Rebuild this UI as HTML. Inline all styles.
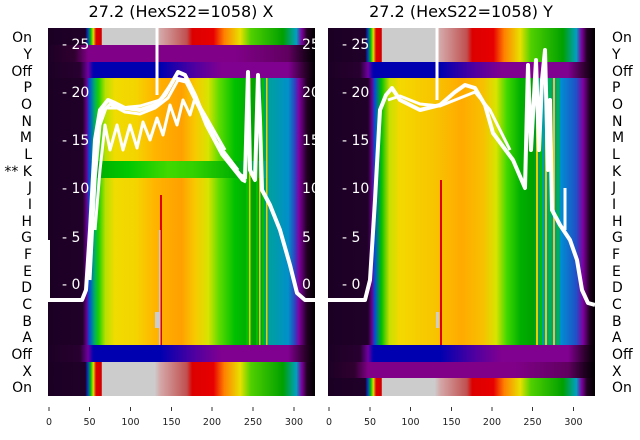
<!DOCTYPE html>
<html><head><meta charset="utf-8"><style>
html,body{margin:0;padding:0;background:#fff;width:640px;height:440px;overflow:hidden}
text{font-family:"DejaVu Sans","Liberation Sans",sans-serif}
</style></head><body>
<svg width="640" height="440" viewBox="0 0 640 440" xmlns="http://www.w3.org/2000/svg">
<defs>
<linearGradient id="Lmain" x1="0" x2="1" y1="0" y2="0">
<stop offset="0" stop-color="#1c0024"/><stop offset="0.13" stop-color="#200028"/><stop offset="0.145" stop-color="#6a0090"/>
<stop offset="0.155" stop-color="#0050d8"/><stop offset="0.175" stop-color="#00b060"/><stop offset="0.19" stop-color="#20d000"/>
<stop offset="0.215" stop-color="#b8e000"/><stop offset="0.25" stop-color="#f0dc00"/><stop offset="0.33" stop-color="#f4d400"/>
<stop offset="0.4" stop-color="#ffb400"/><stop offset="0.5" stop-color="#ffa000"/><stop offset="0.55" stop-color="#f8c800"/>
<stop offset="0.6" stop-color="#d8e400"/><stop offset="0.64" stop-color="#60dc00"/><stop offset="0.7" stop-color="#00c000"/>
<stop offset="0.78" stop-color="#00a000"/><stop offset="0.83" stop-color="#00a0a0"/><stop offset="0.9" stop-color="#0090c8"/>
<stop offset="0.925" stop-color="#3040c0"/><stop offset="0.94" stop-color="#8000a0"/><stop offset="0.97" stop-color="#200020"/><stop offset="1" stop-color="#000"/>
</linearGradient>
<linearGradient id="LK" x1="0" x2="1" y1="0" y2="0">
<stop offset="0" stop-color="#1c0024"/><stop offset="0.13" stop-color="#200028"/><stop offset="0.145" stop-color="#6a0090"/>
<stop offset="0.155" stop-color="#0050d8"/><stop offset="0.19" stop-color="#00b000"/><stop offset="0.3" stop-color="#00c800"/>
<stop offset="0.45" stop-color="#40d800"/><stop offset="0.55" stop-color="#30d000"/><stop offset="0.7" stop-color="#00b000"/>
<stop offset="0.83" stop-color="#00a0a0"/><stop offset="0.9" stop-color="#0090c8"/>
<stop offset="0.925" stop-color="#3040c0"/><stop offset="0.94" stop-color="#8000a0"/><stop offset="0.97" stop-color="#200020"/><stop offset="1" stop-color="#000"/>
</linearGradient>
<linearGradient id="On" x1="0" x2="1" y1="0" y2="0">
<stop offset="0" stop-color="#1c0024"/><stop offset="0.14" stop-color="#200028"/><stop offset="0.15" stop-color="#0040d0"/>
<stop offset="0.16" stop-color="#00c000"/><stop offset="0.17" stop-color="#e0e000"/><stop offset="0.18" stop-color="#e00000"/>
<stop offset="0.2" stop-color="#d00000"/><stop offset="0.203" stop-color="#cccccc"/><stop offset="0.4" stop-color="#cccccc"/>
<stop offset="0.42" stop-color="#d4a8a8"/><stop offset="0.52" stop-color="#c05050"/><stop offset="0.54" stop-color="#dd0000"/>
<stop offset="0.62" stop-color="#e80000"/><stop offset="0.66" stop-color="#ff8000"/><stop offset="0.72" stop-color="#e8e000"/>
<stop offset="0.76" stop-color="#50d000"/><stop offset="0.88" stop-color="#00a000"/><stop offset="0.93" stop-color="#00a0c0"/>
<stop offset="0.95" stop-color="#8000a0"/><stop offset="0.97" stop-color="#200020"/><stop offset="1" stop-color="#000"/>
</linearGradient>
<linearGradient id="Pur" x1="0" x2="1" y1="0" y2="0">
<stop offset="0" stop-color="#1c0024"/><stop offset="0.1" stop-color="#300030"/><stop offset="0.15" stop-color="#800088"/>
<stop offset="0.7" stop-color="#800088"/><stop offset="0.9" stop-color="#600060"/><stop offset="0.96" stop-color="#200020"/><stop offset="1" stop-color="#000"/>
</linearGradient>
<linearGradient id="Off" x1="0" x2="1" y1="0" y2="0">
<stop offset="0" stop-color="#1c0024"/><stop offset="0.12" stop-color="#280030"/><stop offset="0.15" stop-color="#7000a0"/>
<stop offset="0.17" stop-color="#0000b0"/><stop offset="0.42" stop-color="#0000b0"/><stop offset="0.55" stop-color="#5000a0"/>
<stop offset="0.65" stop-color="#800090"/><stop offset="0.9" stop-color="#800090"/><stop offset="0.96" stop-color="#300030"/><stop offset="1" stop-color="#000"/>
</linearGradient>
<linearGradient id="Rmain" x1="0" x2="1" y1="0" y2="0">
<stop offset="0" stop-color="#1c0024"/><stop offset="0.15" stop-color="#200028"/><stop offset="0.165" stop-color="#6a0090"/>
<stop offset="0.175" stop-color="#0050d8"/><stop offset="0.2" stop-color="#00c000"/><stop offset="0.23" stop-color="#c8e000"/>
<stop offset="0.27" stop-color="#f4d800"/><stop offset="0.4" stop-color="#f8c400"/><stop offset="0.5" stop-color="#ffaa00"/>
<stop offset="0.58" stop-color="#f8c000"/><stop offset="0.63" stop-color="#d8e400"/><stop offset="0.67" stop-color="#40d800"/>
<stop offset="0.72" stop-color="#00b000"/><stop offset="0.77" stop-color="#00a000"/><stop offset="0.8" stop-color="#00a0a0"/>
<stop offset="0.87" stop-color="#0090d0"/><stop offset="0.93" stop-color="#2050c8"/><stop offset="0.955" stop-color="#8000a0"/>
<stop offset="0.98" stop-color="#200020"/><stop offset="1" stop-color="#000"/>
</linearGradient>
</defs>

<text x="181" y="17" font-size="16" text-anchor="middle" fill="#000">27.2 (HexS22=1058) X</text>
<text x="461" y="17" font-size="16" text-anchor="middle" fill="#000">27.2 (HexS22=1058) Y</text>

<!-- left panel -->
<svg x="48" y="28" width="267" height="368" viewBox="48 28 267 368">
<rect x="48" y="28" width="267" height="17" fill="url(#On)"/>
<rect x="48" y="45" width="267" height="17" fill="url(#Pur)"/>
<rect x="48" y="62" width="267" height="16" fill="url(#Off)"/>
<rect x="48" y="78" width="267" height="267" fill="url(#Lmain)"/>
<rect x="48" y="161" width="267" height="17" fill="url(#LK)"/>
<rect x="48" y="345" width="267" height="17" fill="url(#Off)"/>
<rect x="48" y="362" width="267" height="34" fill="url(#On)"/>
<rect x="160" y="195" width="2" height="150" fill="#e00000"/>
<rect x="159" y="230" width="1.5" height="115" fill="#ccc"/>
<rect x="155" y="312" width="4" height="16" fill="#ccc"/>
<g fill="#00c000"><rect x="246" y="78" width="3" height="267"/><rect x="256" y="78" width="2" height="267"/><rect x="262" y="78" width="2" height="267"/></g>
<g fill="#e8d000"><rect x="249" y="78" width="1.5" height="267"/><rect x="259" y="78" width="1.5" height="267"/><rect x="266" y="78" width="1.5" height="267"/></g>
<g fill="#fff" font-size="14">
<text x="62" y="49">- 25</text><text x="62" y="97">- 20</text><text x="62" y="145">- 15</text><text x="62" y="193">- 10</text><text x="62" y="242">- 5</text><text x="62" y="289">- 0</text>
<text x="302" y="49">25</text><text x="302" y="97">20</text><text x="302" y="145">15</text><text x="302" y="193">10</text><text x="302" y="242">5</text><text x="302" y="289">0</text>
</g>
<g fill="none" stroke="#fff" stroke-width="3" stroke-linejoin="round">
<line x1="157" y1="28" x2="157" y2="95" stroke-width="3"/>
<line x1="49" y1="240" x2="49" y2="300" stroke-width="2"/>
<polyline stroke-width="4" points="48,300 82,300 86,290 90,230 95,140 100,110 108,100 115,103 125,108 140,110 155,105 165,95 178,72 185,75 195,95 205,120 220,150 240,175 245,178 248,72 250,170 255,180 258,75 260,120 262,190 270,205 280,230 290,265 297,293 305,300 315,300"/>
<polyline points="86,290 92,220 97,135 102,112 110,104 125,112 140,114 155,108 168,98 178,80 186,82 196,100 206,125 222,155 242,180 246,182"/>
<polyline points="90,280 95,180 100,125 106,108 120,108 140,106 160,100 175,78 185,80 200,110 215,140 238,170"/>
<polyline points="95,230 100,170 105,125 110,150 117,125 123,150 130,125 137,148 143,122 150,140 157,118 163,135 170,105 177,125 183,100 190,115 195,98 205,115 225,150"/>
</g>
</svg>

<!-- right panel -->
<svg x="328" y="28" width="267" height="368" viewBox="328 28 267 368">
<rect x="328" y="28" width="267" height="34" fill="url(#On)"/>
<rect x="328" y="62" width="267" height="16" fill="url(#Off)"/>
<rect x="328" y="78" width="267" height="267" fill="url(#Rmain)"/>
<rect x="328" y="345" width="267" height="17" fill="url(#Off)"/>
<rect x="328" y="362" width="267" height="16" fill="url(#Pur)"/>
<rect x="328" y="378" width="267" height="18" fill="url(#On)"/>
<rect x="440" y="180" width="2" height="165" fill="#e00000"/>
<rect x="436" y="312" width="3" height="16" fill="#ccc"/>
<g fill="#e8d000"><rect x="536" y="78" width="2" height="267"/><rect x="545" y="78" width="2" height="267"/><rect x="553" y="78" width="2" height="267"/></g>
<g fill="#00c000"><rect x="540" y="78" width="2" height="267"/><rect x="549" y="78" width="2" height="267"/><rect x="557" y="78" width="2" height="267"/></g>
<g fill="#fff" font-size="14">
<text x="342" y="49">- 25</text><text x="342" y="97">- 20</text><text x="342" y="145">- 15</text><text x="342" y="193">- 10</text><text x="342" y="242">- 5</text><text x="342" y="289">- 0</text>
</g>
<g fill="none" stroke="#fff" stroke-width="4" stroke-linejoin="round">
<line x1="437" y1="28" x2="437" y2="100" stroke-width="3"/>
<line x1="565" y1="188" x2="565" y2="230" stroke-width="3"/>
<polyline points="328,300 365,300 370,280 375,200 380,110 386,95 392,88 400,100 420,110 440,105 455,92 465,85 475,88 485,105 493,133 513,160 525,188 528,65 531,150 536,60 539,150 542,80 545,50 548,170 550,100 552,210 560,225 570,240 577,260 582,290 588,303 595,305"/>
<polyline stroke-width="3" points="388,100 400,96 420,104 440,106 460,98 475,92 490,110 510,150"/>
</g>
</svg>

<!-- row labels -->
<g font-size="14" fill="#000">
<g text-anchor="end">
<text x="32" y="42">On</text><text x="32" y="59">Y</text><text x="32" y="76">Off</text><text x="32" y="92">P</text><text x="32" y="109">O</text><text x="32" y="126">N</text><text x="32" y="142">M</text><text x="32" y="159">L</text><text x="32" y="176">** K</text><text x="32" y="192">J</text><text x="32" y="209">I</text><text x="32" y="226">H</text><text x="32" y="242">G</text><text x="32" y="259">F</text><text x="32" y="276">E</text><text x="32" y="292">D</text><text x="32" y="309">C</text><text x="32" y="326">B</text><text x="32" y="342">A</text><text x="32" y="359">Off</text><text x="32" y="376">X</text><text x="32" y="392">On</text>
</g>
<g text-anchor="start">
<text x="612" y="42">On</text><text x="612" y="59">Y</text><text x="612" y="76">Off</text><text x="612" y="92">P</text><text x="612" y="109">O</text><text x="612" y="126">N</text><text x="612" y="142">M</text><text x="612" y="159">L</text><text x="612" y="176">K</text><text x="612" y="192">J</text><text x="612" y="209">I</text><text x="612" y="226">H</text><text x="612" y="242">G</text><text x="612" y="259">F</text><text x="612" y="276">E</text><text x="612" y="292">D</text><text x="612" y="309">C</text><text x="612" y="326">B</text><text x="612" y="342">A</text><text x="612" y="359">Off</text><text x="612" y="376">X</text><text x="612" y="392">On</text>
</g>
</g>

<!-- x ticks -->
<g stroke="#333" stroke-width="1">
<line x1="49" y1="407" x2="49" y2="411"/><line x1="89.5" y1="407" x2="89.5" y2="411"/><line x1="130.5" y1="407" x2="130.5" y2="411"/><line x1="171.5" y1="407" x2="171.5" y2="411"/><line x1="212" y1="407" x2="212" y2="411"/><line x1="253" y1="407" x2="253" y2="411"/><line x1="294" y1="407" x2="294" y2="411"/>
<line x1="329" y1="407" x2="329" y2="411"/><line x1="370" y1="407" x2="370" y2="411"/><line x1="410.5" y1="407" x2="410.5" y2="411"/><line x1="451.5" y1="407" x2="451.5" y2="411"/><line x1="492" y1="407" x2="492" y2="411"/><line x1="532.5" y1="407" x2="532.5" y2="411"/><line x1="573.5" y1="407" x2="573.5" y2="411"/>
</g>
<g font-size="9.5" fill="#222" text-anchor="middle">
<text x="49" y="425">0</text><text x="89.5" y="425">50</text><text x="130.5" y="425">100</text><text x="171.5" y="425">150</text><text x="212" y="425">200</text><text x="253" y="425">250</text><text x="294" y="425">300</text>
<text x="329" y="425">0</text><text x="370" y="425">50</text><text x="410.5" y="425">100</text><text x="451.5" y="425">150</text><text x="492" y="425">200</text><text x="532.5" y="425">250</text><text x="573.5" y="425">300</text>
</g>
</svg>
</body></html>
